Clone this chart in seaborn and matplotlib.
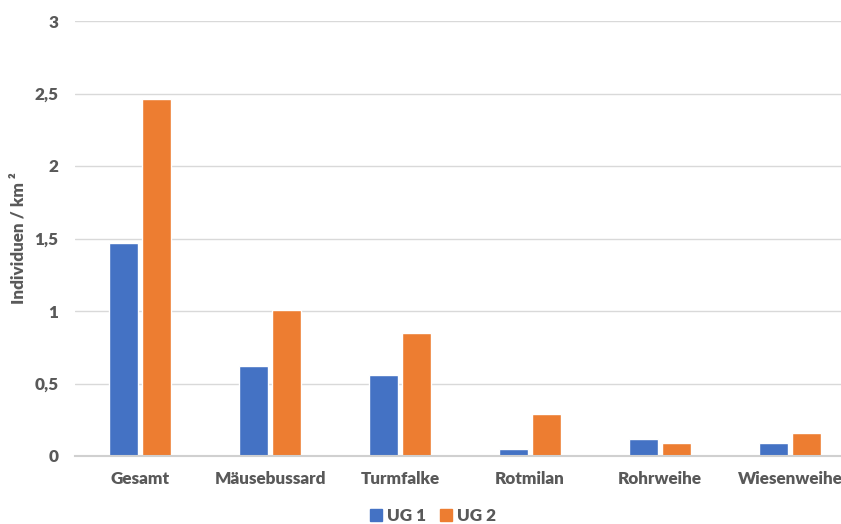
import matplotlib
matplotlib.use("Agg")
import matplotlib.pyplot as plt
import seaborn as sns
import pandas as pd

species = ["Gesamt", "Mäusebussard", "Turmfalke", "Rotmilan", "Rohrweihe", "Wiesenweihe"]
ug1 = [1.47, 0.62, 0.56, 0.05, 0.12, 0.09]
ug2 = [2.46, 1.01, 0.85, 0.29, 0.09, 0.16]
series = ["UG 1", "UG 2"]
y_ticks = [0, 0.5, 1, 1.5, 2, 2.5, 3]
y_tick_labels = ["0", "0,5", "1", "1,5", "2", "2,5", "3"]

df = pd.DataFrame({
    "Art": species * 2,
    "Wert": ug1 + ug2,
    "Gebiet": [series[0]] * len(species) + [series[1]] * len(species),
})

sns.set_theme(style="white")
plt.rcParams["font.family"] = ["Lato", "DejaVu Sans"]
text_color = "#595959"
fs = 12.3

W, H = 841, 524
fig = plt.figure(figsize=(W / 100, H / 100), dpi=100)
left, right, top, bottom = 75, 855, 21, 456
ax = fig.add_axes([left / W, 1 - bottom / H, (right - left) / W, (bottom - top) / H])

sns.barplot(data=df, x="Art", y="Wert", hue="Gebiet", order=species, hue_order=series,
            palette=["#4472C4", "#ED7D31"], width=0.508, gap=0.12, ax=ax,
            errorbar=None, saturation=1, legend=False)

ax.set_xlim(-0.5, len(species) - 0.5)
ax.set_ylim(0, 3)
ax.set_yticks(y_ticks)
ax.set_yticklabels(y_tick_labels)
ax.yaxis.grid(True, color="#D9D9D9", linewidth=1)
ax.set_axisbelow(True)
for s in ["top", "right", "left"]:
    ax.spines[s].set_visible(False)
ax.spines["bottom"].set_color("#D0D0D0")
ax.spines["bottom"].set_linewidth(1.5)
ax.spines["bottom"].set_zorder(5)
ax.tick_params(axis="y", length=0, pad=12, labelsize=fs, labelcolor=text_color)
ax.tick_params(axis="x", length=0, pad=11, labelsize=fs, labelcolor=text_color)
for lab in ax.get_xticklabels() + ax.get_yticklabels():
    lab.set_fontweight("heavy")
ax.set_xlabel("")
ax.set_ylabel("Individuen / km ²", fontsize=fs, fontweight="heavy", color=text_color)
ax.yaxis.set_label_coords(-(left - 26) / (right - left), 0.5)

handles = [plt.Rectangle((0, 0), 1, 1, color=c) for c in ["#4472C4", "#ED7D31"]]
fig.legend(handles, series, loc="center", bbox_to_anchor=(433 / W, 1 - 516 / H),
           ncol=2, frameon=False, handlelength=0.7, handleheight=0.7, handletextpad=0.3,
           columnspacing=0.8, prop={"weight": "heavy", "size": fs}, labelcolor=text_color)

fig.savefig("out.png", dpi=100)
